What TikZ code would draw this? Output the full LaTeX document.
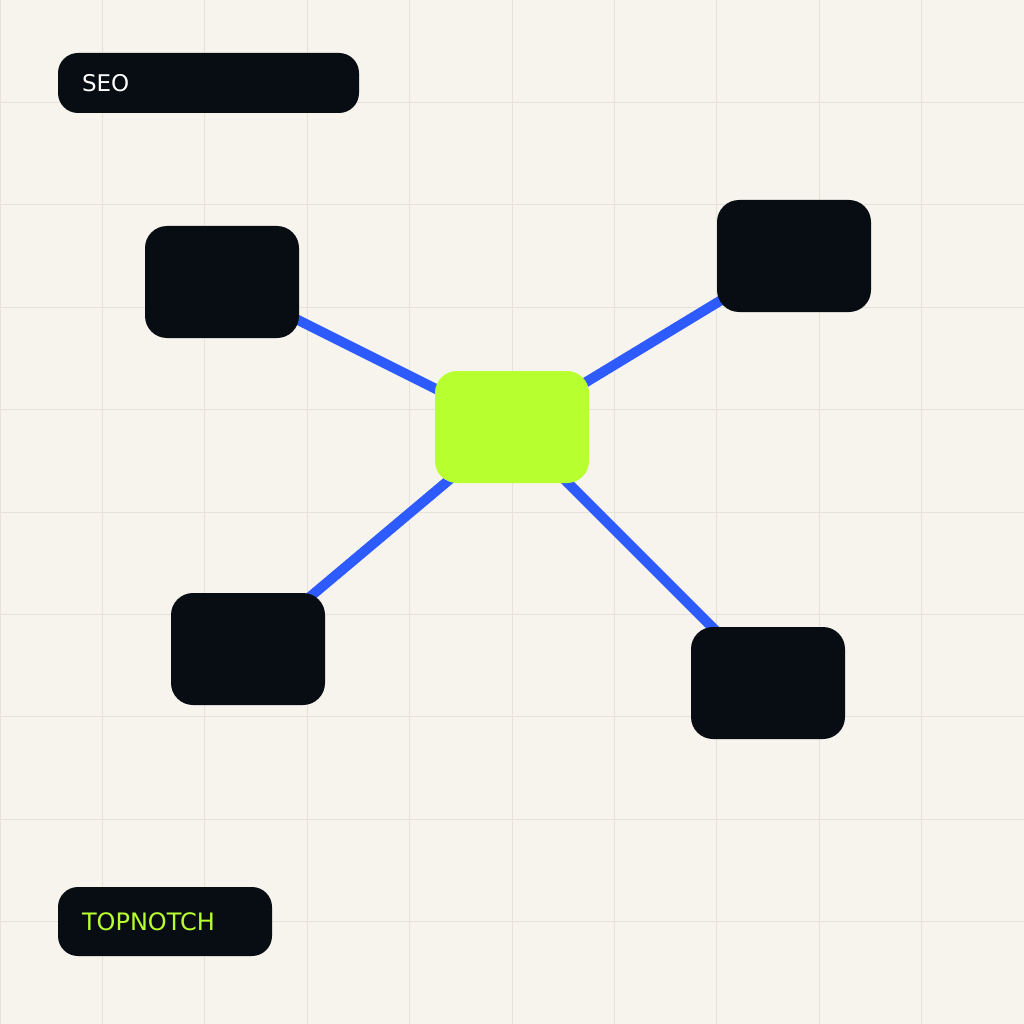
\documentclass[tikz,border=0pt]{standalone}
\usepackage{fontspec}
\setmainfont{DejaVu Sans}
\usetikzlibrary{backgrounds}

\definecolor{paper}{HTML}{F7F4EE}
\definecolor{gridgray}{HTML}{E6E1D9}
\definecolor{ink}{HTML}{080C13}
\definecolor{lime}{HTML}{B8FF2F}
\definecolor{wire}{HTML}{2E5BFF}

\begin{document}
\begin{tikzpicture}[x=1pt,y=-1pt,
    box/.style={fill=ink, rounded corners=22pt, minimum width=154pt, minimum height=112pt, inner sep=0pt},
    hub/.style={box, fill=lime},
    tag/.style={fill=ink, rounded corners=20pt, inner xsep=24pt, inner ysep=0pt, align=left, font=\fontsize{23}{27}\selectfont},
    link/.style={draw=wire, line width=10pt}]
\useasboundingbox (0,0) rectangle (1024,1024);

% labels
\node[tag, text=white, text width=253pt, minimum height=60pt] (seo) at (208.5,83) {SEO};
\node[tag, text=lime, text width=166pt, minimum height=69pt, font=\fontsize{24}{28}\selectfont] (brand) at (165,921.5) {TOPNOTCH};

% map
\node[hub] (core) at (512,427) {};
\node[box] (nw) at (222,282) {};
\node[box] (ne) at (794,256) {};
\node[box] (sw) at (248,649) {};
\node[box] (se) at (768,683) {};

\begin{scope}[on background layer]
\fill[paper] (0,0) rectangle (1024,1024);
\foreach \i in {0,...,10} {
    \draw[gridgray, line width=1pt] (\i*102.4,0) -- (\i*102.4,1024);
    \draw[gridgray, line width=1pt] (0,\i*102.4) -- (1024,\i*102.4);
}
\foreach \n in {nw,ne,sw,se}
    \draw[link] (core.center) -- (\n.center);
\end{scope}
\end{tikzpicture}
\end{document}
